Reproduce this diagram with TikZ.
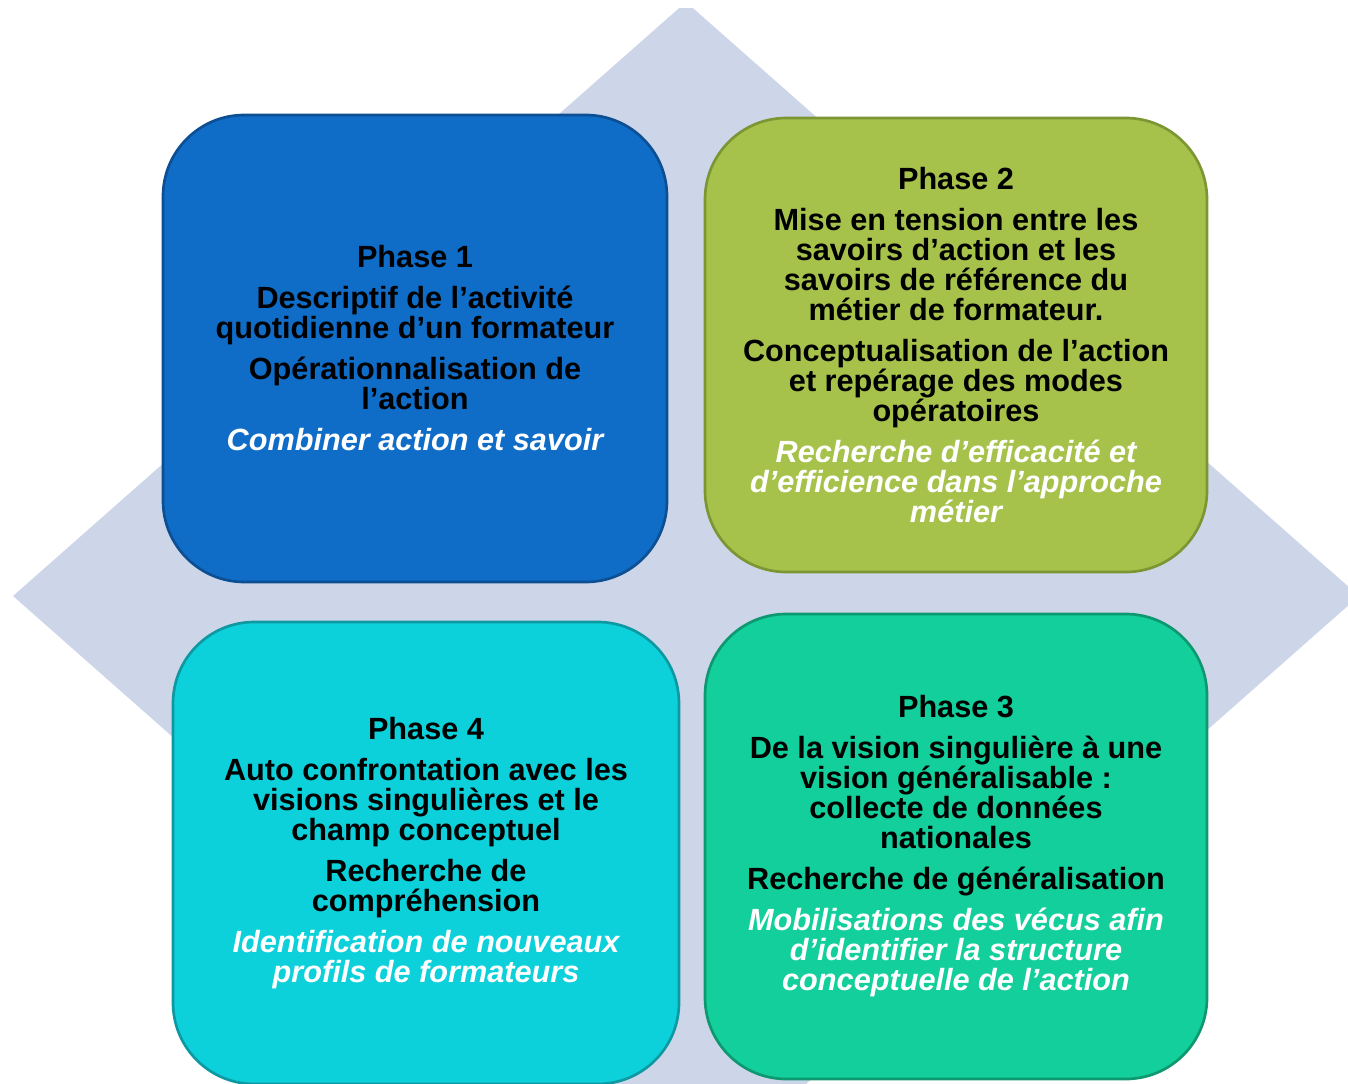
\documentclass[tikz,border=0pt]{standalone}
\usepackage{fontspec}
\setmainfont{Liberation Sans}
\definecolor{diam}{HTML}{CDD5E9}
\definecolor{pAfill}{HTML}{0F6CC7}
\definecolor{pAline}{HTML}{0C4F93}
\definecolor{pBfill}{HTML}{A6C24B}
\definecolor{pBline}{HTML}{7B9633}
\definecolor{pCfill}{HTML}{12CF9B}
\definecolor{pCline}{HTML}{0E9870}
\definecolor{pDfill}{HTML}{0CD0DA}
\definecolor{pDline}{HTML}{0E99A2}
\newcommand{\whiteit}[1]{{\color{white}\itshape #1}}
\newcommand{\pgap}{\\[8.25pt]}
\tikzset{
  phasebox/.style={draw, line width=2pt, rounded corners=61pt, align=center,
    inner sep=0pt, font=\fontsize{23pt}{22.5pt}\selectfont\bfseries}
}
\begin{document}
\begin{tikzpicture}[x=0.75pt,y=-0.75pt]
\useasboundingbox (0,0) rectangle (1348,1084);
\begin{scope}
  \clip (0,9) rectangle (1348,1084);
  \fill[diam] (13,596) -- (686,2) -- (1359,596) -- (686,1190) -- cycle;
\end{scope}
\node[phasebox, fill=pAfill, draw=pAline, minimum width=378pt, minimum height=350.25pt] (p1) at (415,348.5)
 {Phase 1\pgap
  Descriptif de l’activité\\quotidienne d’un formateur\pgap
  Opérationnalisation de\\l’action\pgap
  \whiteit{Combiner action et savoir}};
\node[phasebox, fill=pBfill, draw=pBline, minimum width=376.5pt, minimum height=340.5pt] (p2) at (956,345)
 {Phase 2\pgap
  Mise en tension entre les\\savoirs d’action et les\\savoirs de référence du\\métier de formateur.\pgap
  Conceptualisation de l’action\\et repérage des modes\\opératoires\pgap
  \whiteit{Recherche d’efficacité et}\\\whiteit{d’efficience dans l’approche}\\\whiteit{métier}};
\node[phasebox, fill=pDfill, draw=pDline, minimum width=379.5pt, minimum height=346.5pt] (p4) at (426,853)
 {Phase 4\pgap
  Auto confrontation avec les\\visions singulières et le\\champ conceptuel\pgap
  Recherche de\\compréhension\pgap
  \whiteit{Identification de nouveaux}\\\whiteit{profils de formateurs}};
\node[phasebox, fill=pCfill, draw=pCline, minimum width=376.5pt, minimum height=348.75pt] (p3) at (956,846.5)
 {Phase 3\pgap
  De la vision singulière à une\\vision généralisable :\\collecte de données\\nationales\pgap
  Recherche de généralisation\pgap
  \whiteit{Mobilisations des vécus afin}\\\whiteit{d’identifier la structure}\\\whiteit{conceptuelle de l’action}};
\end{tikzpicture}
\end{document}
